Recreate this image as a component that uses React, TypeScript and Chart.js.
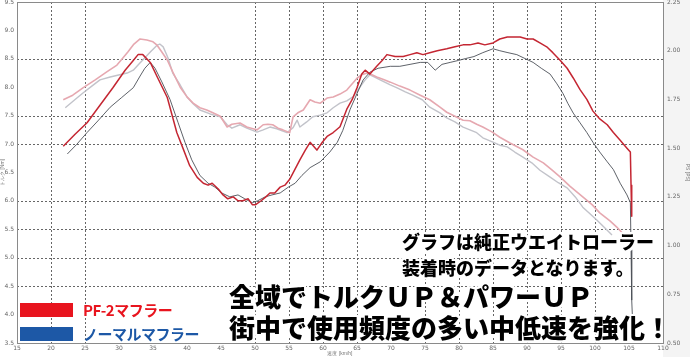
import React, { useEffect, useRef } from "react";
import { Chart, registerables } from "chart.js";
Chart.register(...registerables);

// Speed axis (km/h) and readings
const pf2PowerSpeed = [21.8, 23.5, 25.3, 27.2, 29.1, 30.9, 32.1, 32.8, 33.5, 34.6, 35.7, 37.1, 37.8, 38.5, 39.4, 40.4, 41.5, 42.4, 43.1, 43.7, 44.6, 45.3, 46.0, 46.8, 47.5, 48.2, 49.0, 49.6, 50.1, 50.9, 51.6, 52.2, 52.9, 53.7, 54.4, 55.1, 56.6, 57.4, 58.1, 59.1, 59.9, 60.6, 61.5, 62.5, 63.5, 64.3, 65.0, 65.7, 66.2, 66.9, 67.9, 68.7, 69.4, 70.6, 71.8, 72.8, 73.8, 74.7, 75.7, 76.8, 78.2, 79.4, 80.6, 81.6, 82.8, 83.8, 85.0, 86.0, 87.1, 87.9, 89.0, 90.0, 90.9, 91.9, 92.9, 93.8, 94.9, 95.9, 96.8, 97.8, 98.8, 99.7, 100.7, 101.8, 102.7, 103.7, 104.7, 105.2, 105.3, 105.4];
const pf2Power = [1.51, 1.57, 1.63, 1.72, 1.81, 1.90, 1.95, 1.98, 1.98, 1.94, 1.86, 1.76, 1.67, 1.58, 1.50, 1.41, 1.35, 1.32, 1.31, 1.32, 1.29, 1.26, 1.24, 1.25, 1.23, 1.23, 1.24, 1.21, 1.21, 1.23, 1.25, 1.27, 1.27, 1.30, 1.31, 1.34, 1.44, 1.49, 1.53, 1.49, 1.53, 1.56, 1.58, 1.61, 1.70, 1.75, 1.81, 1.88, 1.90, 1.88, 1.92, 1.95, 1.98, 1.97, 1.97, 1.98, 1.99, 1.98, 1.99, 2.00, 2.01, 2.02, 2.03, 2.03, 2.04, 2.03, 2.04, 2.06, 2.07, 2.07, 2.07, 2.06, 2.06, 2.04, 2.02, 1.99, 1.95, 1.91, 1.86, 1.80, 1.75, 1.69, 1.65, 1.62, 1.58, 1.54, 1.50, 1.48, 1.31, 1.15];

const normalPowerSpeed = [22.4, 23.8, 25.3, 26.9, 28.7, 30.4, 32.1, 33.1, 33.8, 34.6, 35.3, 36.3, 37.5, 38.7, 39.7, 40.7, 41.9, 43.1, 44.1, 45.1, 46.3, 47.5, 48.5, 49.6, 50.4, 51.5, 52.5, 53.7, 54.9, 55.9, 56.9, 58.1, 59.6, 61.0, 62.1, 62.9, 64.0, 65.0, 65.9, 66.9, 68.1, 69.9, 71.3, 72.8, 74.3, 75.4, 76.5, 77.5, 78.7, 79.9, 81.0, 82.2, 83.5, 85.0, 86.0, 87.2, 88.5, 89.7, 90.9, 92.1, 93.4, 94.4, 95.3, 96.0, 96.8, 97.8, 98.8, 99.7, 100.7, 101.8, 102.7, 103.7, 104.7, 105.2, 105.3, 105.4, 105.6];
const normalPower = [1.47, 1.52, 1.58, 1.64, 1.71, 1.76, 1.81, 1.87, 1.91, 1.94, 1.91, 1.84, 1.75, 1.63, 1.53, 1.44, 1.36, 1.32, 1.30, 1.27, 1.25, 1.26, 1.24, 1.22, 1.23, 1.25, 1.26, 1.27, 1.30, 1.32, 1.36, 1.40, 1.43, 1.48, 1.53, 1.59, 1.70, 1.78, 1.85, 1.89, 1.91, 1.92, 1.92, 1.93, 1.94, 1.94, 1.90, 1.93, 1.94, 1.95, 1.96, 1.97, 1.99, 2.01, 2.00, 1.99, 1.98, 1.96, 1.94, 1.91, 1.88, 1.83, 1.78, 1.73, 1.68, 1.63, 1.58, 1.53, 1.48, 1.43, 1.39, 1.32, 1.26, 1.22, 0.98, 0.72, 0.55];

const pf2TorqueSpeed = [21.8, 23.2, 24.7, 26.5, 28.2, 29.7, 30.6, 31.3, 32.2, 33.1, 34.1, 35.0, 35.6, 36.3, 37.1, 37.9, 39.0, 40.0, 40.9, 41.9, 42.9, 43.8, 44.9, 45.9, 46.6, 47.8, 48.8, 49.7, 50.3, 51.2, 51.9, 52.6, 53.4, 54.1, 55.1, 55.6, 56.3, 57.1, 58.1, 58.8, 59.6, 60.6, 61.5, 62.5, 63.5, 64.3, 65.0, 65.7, 66.5, 67.2, 67.9, 69.0, 69.9, 71.3, 72.8, 74.3, 75.7, 77.2, 78.2, 79.4, 80.6, 81.6, 82.6, 83.5, 84.9, 86.0, 87.5, 89.4, 90.9, 92.4, 93.7, 94.9, 96.3, 98.2, 99.6, 100.7, 102.2, 103.2, 104.3, 105.1];
const pf2Torque = [7.78, 7.86, 7.99, 8.13, 8.27, 8.39, 8.52, 8.62, 8.76, 8.85, 8.83, 8.80, 8.74, 8.62, 8.48, 8.27, 8.00, 7.83, 7.72, 7.64, 7.60, 7.55, 7.49, 7.30, 7.35, 7.37, 7.30, 7.27, 7.25, 7.34, 7.35, 7.34, 7.28, 7.25, 7.20, 7.48, 7.55, 7.60, 7.78, 7.74, 7.72, 7.81, 7.83, 7.88, 7.95, 8.06, 8.16, 8.22, 8.25, 8.22, 8.18, 8.13, 8.09, 8.02, 7.95, 7.86, 7.78, 7.65, 7.56, 7.49, 7.42, 7.41, 7.35, 7.30, 7.21, 7.12, 7.02, 6.90, 6.77, 6.67, 6.54, 6.42, 6.26, 6.07, 5.93, 5.79, 5.65, 5.54, 5.40, 5.22];

const normalTorqueSpeed = [22.1, 23.5, 24.7, 26.0, 27.2, 28.7, 30.1, 31.2, 32.1, 32.8, 33.5, 34.6, 35.6, 36.0, 36.5, 37.2, 37.9, 39.0, 40.0, 40.9, 41.9, 43.4, 44.9, 45.9, 46.6, 47.8, 48.8, 50.3, 51.2, 52.2, 53.2, 54.7, 55.6, 56.2, 56.6, 57.6, 58.5, 59.6, 60.6, 61.5, 62.5, 63.5, 64.4, 65.4, 66.2, 66.9, 67.6, 68.4, 69.9, 70.9, 72.1, 73.2, 74.6, 75.7, 77.2, 78.2, 79.4, 80.6, 81.6, 82.6, 83.5, 84.9, 86.0, 87.1, 88.2, 89.4, 90.7, 91.9, 93.4, 94.6, 95.9, 97.1, 98.2, 99.3, 100.3, 101.5, 102.5];
const normalTorque = [7.64, 7.78, 7.90, 8.02, 8.13, 8.18, 8.22, 8.25, 8.30, 8.39, 8.48, 8.62, 8.74, 8.76, 8.71, 8.52, 8.25, 8.04, 7.83, 7.71, 7.60, 7.53, 7.48, 7.34, 7.28, 7.34, 7.28, 7.21, 7.25, 7.30, 7.27, 7.20, 7.29, 7.42, 7.30, 7.39, 7.48, 7.51, 7.55, 7.64, 7.72, 7.76, 7.83, 8.00, 8.13, 8.22, 8.18, 8.13, 8.04, 7.99, 7.92, 7.86, 7.78, 7.65, 7.55, 7.46, 7.39, 7.30, 7.25, 7.20, 7.11, 7.04, 6.98, 6.95, 6.86, 6.77, 6.67, 6.54, 6.42, 6.32, 6.23, 6.07, 5.89, 5.77, 5.66, 5.52, 5.40];

// grid lines that are visible in the reference
const speedGrid = [20, 25, 50, 55, 60, 65, 75, 80, 85, 90, 95, 100];
const torqueGrid = [8.5, 7.5, 7.0, 6.0, 5.5, 5.0, 4.5];

const legendItems = [
  { label: "PF-2マフラー", color: "#e8141e" },
  { label: "ノーマルマフラー", color: "#1d58a6" },
];
const noteLines = ["グラフは純正ウエイトローラー", "装着時のデータとなります。"];
const headlineLines = ["全域でトルクＵＰ＆パワーＵＰ", "街中で使用頻度の多い中低速を強化！"];

const zip = (xs: number[], ys: number[]) => xs.map((x, i) => ({ x, y: ys[i] }));

const halo = (w: number) => {
  const s: string[] = [];
  for (let dx = -w; dx <= w; dx++) for (let dy = -w; dy <= w; dy++) if (dx || dy) s.push(`${dx}px ${dy}px 0 #fff`);
  return s.join(",");
};

const frame = {
  id: "frame",
  beforeDraw(chart: any) {
    const { ctx, width, height, chartArea: a } = chart;
    ctx.save();
    ctx.fillStyle = "#f4f4f4";
    ctx.fillRect(a.right, 0, width - a.right, height);
    ctx.fillStyle = "#ffffff";
    ctx.fillRect(a.left, a.top, a.right - a.left, a.bottom - a.top);
    ctx.restore();
  },
  beforeDatasetsDraw(chart: any) {
    const { ctx, chartArea: a, scales } = chart;
    ctx.save();
    ctx.strokeStyle = "#666";
    ctx.lineWidth = 1;
    ctx.setLineDash([2, 2]);
    ctx.beginPath();
    speedGrid.forEach((v) => {
      const px = Math.round(scales.x.getPixelForValue(v)) + 0.5;
      ctx.moveTo(px, a.top);
      ctx.lineTo(px, a.bottom);
    });
    torqueGrid.forEach((v) => {
      const py = Math.round(scales.y.getPixelForValue(v)) + 0.5;
      ctx.moveTo(a.left, py);
      ctx.lineTo(a.right, py);
    });
    ctx.stroke();
    ctx.restore();
  },
  afterDraw(chart: any) {
    const { ctx, chartArea: a } = chart;
    ctx.save();
    ctx.strokeStyle = "#8a8a8a";
    ctx.lineWidth = 1;
    ctx.strokeRect(a.left + 0.5, a.top + 0.5, a.right - a.left, a.bottom - a.top);
    ctx.restore();
  },
};

export default function App() {
  const ref = useRef<HTMLCanvasElement>(null);
  useEffect(() => {
    const fixV = (w: number) => (s: any) => {
      s.width = w;
      s.paddingTop = 0;
      s.paddingBottom = 0;
    };
    const chart = new Chart(ref.current!, {
      type: "line",
      data: {
        datasets: [
          { label: "PF-2 power", data: zip(pf2PowerSpeed, pf2Power), yAxisID: "y1", borderColor: "#c42632", borderWidth: 1.5, order: 0 },
          { label: "Normal power", data: zip(normalPowerSpeed, normalPower), yAxisID: "y1", borderColor: "#4c5058", borderWidth: 0.9, order: 1 },
          { label: "PF-2 torque", data: zip(pf2TorqueSpeed, pf2Torque), yAxisID: "y", borderColor: "#e6a8b0", borderWidth: 1.6, order: 2 },
          { label: "Normal torque", data: zip(normalTorqueSpeed, normalTorque), yAxisID: "y", borderColor: "#c2c3ca", borderWidth: 1.4, order: 3 },
        ] as any,
      },
      options: {
        animation: false,
        responsive: false,
        maintainAspectRatio: false,
        parsing: false as any,
        elements: { point: { radius: 0 }, line: { tension: 0, borderJoinStyle: "round" } },
        layout: { padding: { top: 2, left: 0, right: 0, bottom: 0 } },
        plugins: { legend: { display: false }, tooltip: { enabled: false } },
        scales: {
          x: {
            type: "linear",
            min: 15,
            max: 110,
            afterFit: (s: any) => {
              s.height = 14;
              s.paddingLeft = 0;
              s.paddingRight = 0;
            },
            ticks: { stepSize: 5, color: "#666", font: { size: 6, family: "DejaVu Sans" }, padding: 2, maxRotation: 0, autoSkip: false },
            grid: { display: false, drawTicks: false },
            border: { display: false },
            title: { display: true, text: "速度 [km/h]", color: "#777", font: { size: 5 }, padding: 0 },
          },
          y: {
            position: "left",
            min: 3.5,
            max: 9.5,
            afterFit: fixV(17),
            ticks: { stepSize: 0.5, color: "#666", font: { size: 6, family: "DejaVu Sans" }, padding: 3, callback: (v: any) => Number(v).toFixed(1) },
            grid: { display: false, drawTicks: false },
            border: { display: false },
            title: { display: true, text: "トルク [Nm]", color: "#777", font: { size: 5 }, padding: 0 },
          },
          y1: {
            position: "right",
            min: 0.5,
            max: 2.25,
            afterFit: fixV(27),
            ticks: { stepSize: 0.25, color: "#666", font: { size: 6, family: "DejaVu Sans" }, padding: 4, callback: (v: any) => Number(v).toFixed(2) },
            grid: { display: false, drawTicks: false },
            border: { display: false },
            title: { display: true, text: "PS [PS]", color: "#777", font: { size: 5 }, padding: 0 },
          },
        },
      } as any,
      plugins: [frame],
    });
    return () => chart.destroy();
  }, []);

  const jp = '"Noto Sans CJK JP", sans-serif';
  return (
    <div style={{ position: "fixed", left: 0, top: 0, width: 690, height: 357, background: "#fff", overflow: "hidden" }}>
      <canvas ref={ref} width={690} height={357} style={{ display: "block", width: 690, height: 357 }} />
      {legendItems.map((it, i) => (
        <div key={it.label} style={{ position: "absolute", left: 20, top: 302 + i * 24, height: 16, display: "flex", alignItems: "center" }}>
          <div style={{ width: 53, height: 14, background: it.color }} />
          <span style={{ marginLeft: 10, color: it.color, fontFamily: jp, fontWeight: 700, fontSize: 15, lineHeight: "16px", letterSpacing: -0.5, whiteSpace: "nowrap" }}>{it.label}</span>
        </div>
      ))}
      {noteLines.map((t, i) => (
        <div key={t} style={{ position: "absolute", left: 402, top: 229 + i * 26, fontFamily: jp, fontWeight: 900, fontSize: 18, lineHeight: "24px", color: "#000", whiteSpace: "nowrap", textShadow: halo(2) }}>{t}</div>
      ))}
      {headlineLines.map((t, i) => (
        <div key={t} style={{ position: "absolute", left: 229, top: 280 + i * 31, fontFamily: jp, fontWeight: 900, fontSize: 26, lineHeight: "32px", color: "#000", whiteSpace: "nowrap", textShadow: halo(2) }}>{t}</div>
      ))}
    </div>
  );
}
